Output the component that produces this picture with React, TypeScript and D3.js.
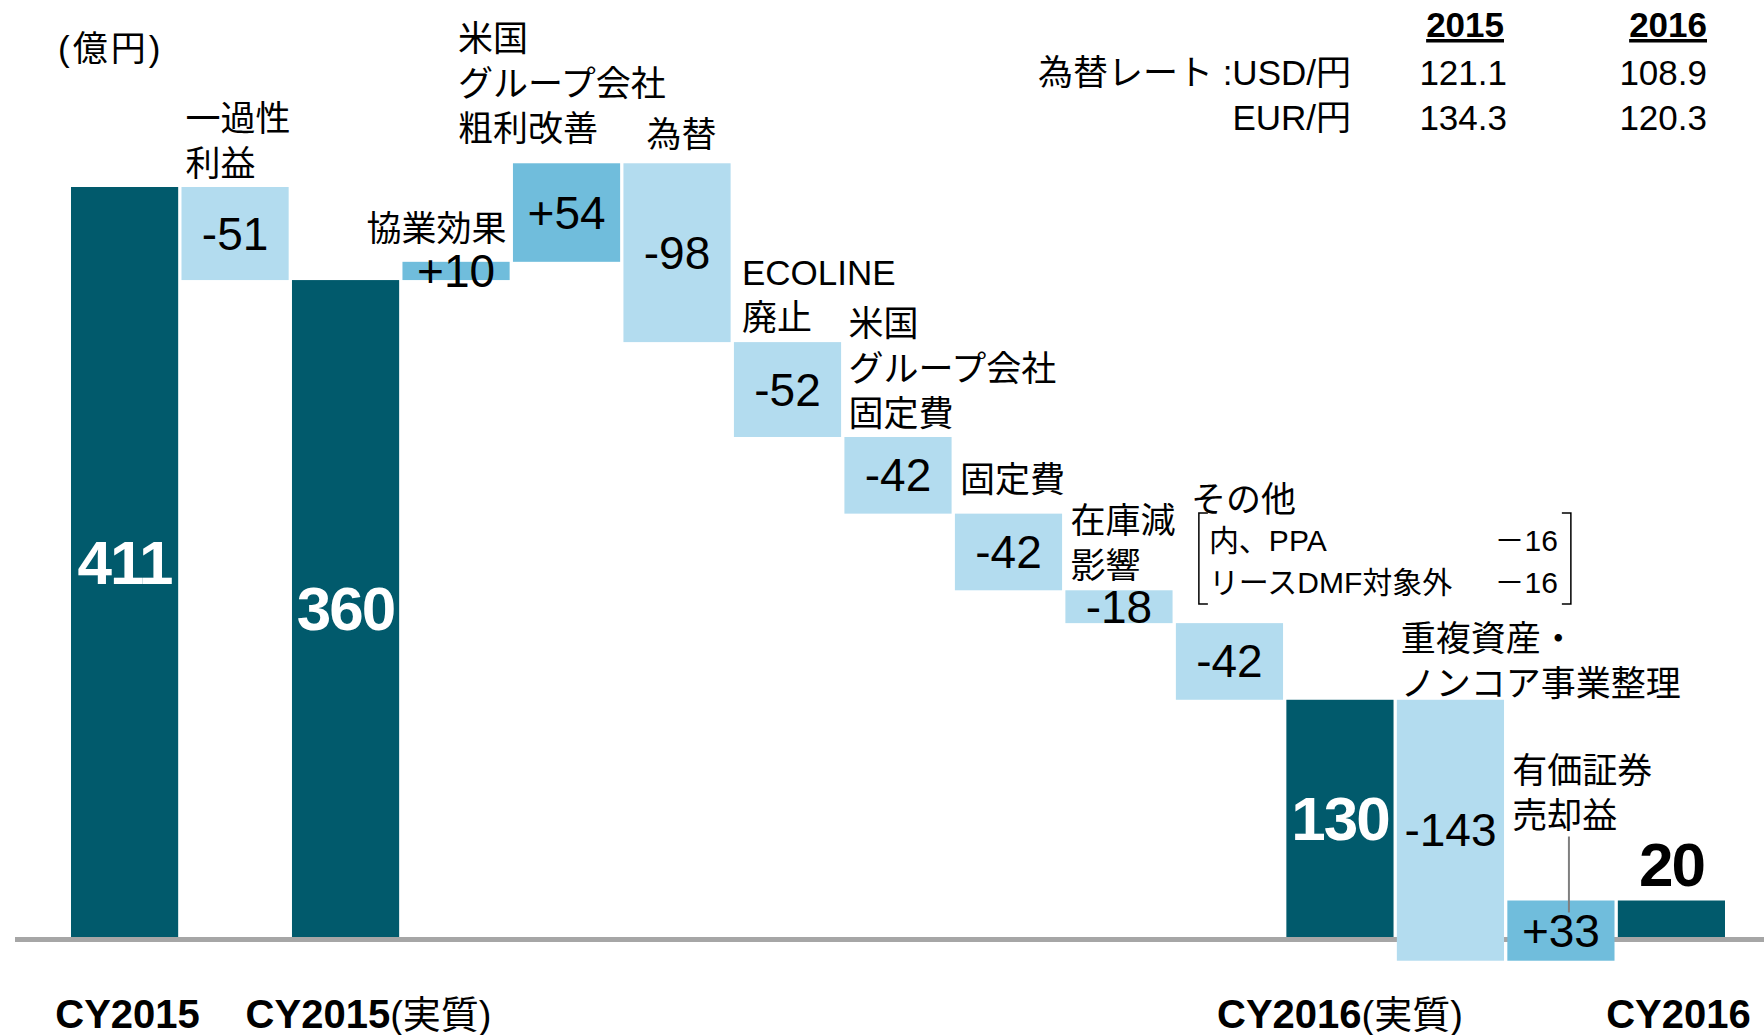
import React from "react";
import * as d3 from "d3";

// values in 億円
const categories = [
  "CY2015", "一過性利益", "CY2015(実質)", "協業効果", "米国グループ会社粗利改善",
  "為替", "ECOLINE廃止", "米国グループ会社固定費", "固定費", "在庫減影響",
  "その他", "CY2016(実質)", "重複資産・ノンコア事業整理", "有価証券売却益", "CY2016",
];
const values = [411, -51, 360, 10, 54, -98, -52, -42, -42, -18, -42, 130, -143, 33, 20];
const isTotal = [true, false, true, false, false, false, false, false, false, false, false, true, false, false, true];

const stepLabelLines = [
  [], ["一過性", "利益"], [], ["協業効果"], ["米国", "グループ会社", "粗利改善"],
  ["為替"], ["ECOLINE", "廃止"], ["米国", "グループ会社", "固定費"], ["固定費"], ["在庫減", "影響"],
  ["その他"], [], ["重複資産・", "ノンコア事業整理"], ["有価証券", "売却益"], [],
];

const bottomIdx = [0, 2, 11, 14];
const bottomMain = ["CY2015", "CY2015", "CY2016", "CY2016"];
const bottomSuffix = ["", "(実質)", "(実質)", ""];

const fxYears = ["2015", "2016"];
const fxRows = ["為替レート :USD/円", "EUR/円"];
const fx2015 = ["121.1", "134.3"];
const fx2016 = ["108.9", "120.3"];

const otherItems = ["内、PPA", "リースDMF対象外"];
const otherValues = ["－16", "－16"];

const FONT = "'Liberation Sans', Arial, 'Noto Sans CJK JP', sans-serif";
const DARK = "#015a6c";
const LIGHT = "#b3dcef";
const MID = "#70bddc";

// label placement: dx from band start (or band end for "end"), dy of last line from bar top
const labelLayout = [
  null, { dx: 4, anchor: "start", dy: -24 }, null, { dx: -3, anchor: "end", dy: -34 },
  { dx: -55, anchor: "start", dy: -35 }, { dx: 58, anchor: "middle", dy: -29 },
  { dx: 8, anchor: "start", dy: -25 }, { dx: 4, anchor: "start", dy: -24 },
  { dx: 5, anchor: "start", dy: -35 }, { dx: 5, anchor: "start", dy: -25 },
  { dx: 15, anchor: "start", dy: -124 }, null, { dx: 4, anchor: "start", dy: -17 },
  { dx: 5, anchor: "start", dy: -86 }, null,
];

export default function App() {
  const W = 1764, H = 1035;
  const x = d3.scaleBand().domain(categories).range([71, 1725]).paddingInner(0.03).paddingOuter(0);
  const y = d3.scaleLinear().domain([0, 411]).range([937, 187]);
  const bw = x.bandwidth();

  let run = 0;
  const bars = values.map((v, i) => {
    let a, b;
    if (isTotal[i]) { a = 0; b = v; run = v; }
    else { a = run; b = run + v; run = b; }
    const top = y(Math.max(a, b));
    const bottom = y(Math.min(a, b));
    const fill = isTotal[i] ? DARK : v < 0 ? LIGHT : MID;
    const label = isTotal[i] ? String(v) : (v > 0 ? "+" : "") + v;
    return { i, cat: categories[i], x0: x(categories[i]) as number, top, bottom, fill, label, v };
  });

  const lineH = 45;
  const otherBar = bars[10];
  const secBar = bars[13];
  const bx0 = otherBar.x0 + 23, bx1 = bx0 + 372, by0 = 513, by1 = 604;

  return (
    <svg width={W} height={H} style={{ position: "absolute", left: 0, top: 0, background: "#fff" }} fontFamily={FONT}>
      {/* baseline */}
      <line x1={15} x2={W} y1={y(0) + 2.5} y2={y(0) + 2.5} stroke="#a6a6a6" strokeWidth={5} />

      {bars.map((b) => (
        <rect key={b.cat} x={b.x0} y={b.top} width={bw} height={b.bottom - b.top} fill={b.fill} />
      ))}

      {/* leader line for 有価証券売却益 */}
      <line x1={secBar.x0 + bw / 2 + 8} x2={secBar.x0 + bw / 2 + 8} y1={secBar.top - 64} y2={secBar.top + 12}
        stroke="#7f7f7f" strokeWidth={2} />

      {/* values */}
      {bars.map((b) => {
        const last = b.i === values.length - 1;
        if (isTotal[b.i]) {
          return (
            <text key={"v" + b.i} x={b.x0 + bw / 2} y={last ? b.top - 36 : (b.top + b.bottom) / 2}
              textAnchor="middle" dominantBaseline="central" fontWeight="bold" fontSize={62}
              letterSpacing={-2} fill={last ? "#000" : "#fff"}>{b.label}</text>
          );
        }
        return (
          <text key={"v" + b.i} x={b.x0 + bw / 2} y={(b.top + b.bottom) / 2}
            textAnchor="middle" dominantBaseline="central" fontSize={46} fill="#000">{b.label}</text>
        );
      })}

      {/* step labels */}
      {bars.map((b) => {
        const lay = labelLayout[b.i];
        const lines = stepLabelLines[b.i];
        if (!lay || lines.length === 0) return null;
        const tx = lay.anchor === "end" ? b.x0 + bw + lay.dx : b.x0 + lay.dx;
        const yLast = b.top + lay.dy;
        return (
          <text key={"l" + b.i} textAnchor={lay.anchor as any} dominantBaseline="central" fontSize={35} fill="#000">
            {lines.map((ln, k) => (
              <tspan key={k} x={tx} y={yLast - (lines.length - 1 - k) * lineH}>{ln}</tspan>
            ))}
          </text>
        );
      })}

      {/* その他 breakdown */}
      <path d={`M${bx0 + 9},${by0} H${bx0} V${by1} H${bx0 + 9}`} fill="none" stroke="#000" strokeWidth={1.5} />
      <path d={`M${bx1 - 9},${by0} H${bx1} V${by1} H${bx1 - 9}`} fill="none" stroke="#000" strokeWidth={1.5} />
      {otherItems.map((t, k) => (
        <g key={t}>
          <text x={bx0 + 10} y={540 + k * 42} dominantBaseline="central" fontSize={30}>{t}</text>
          <text x={bx1 - 13} y={540 + k * 42} dominantBaseline="central" textAnchor="end" fontSize={30}>{otherValues[k]}</text>
        </g>
      ))}

      {/* unit */}
      <text x={58} y={48} dominantBaseline="central" fontSize={35} letterSpacing={3}>(億円)</text>

      {/* fx table */}
      {fxYears.map((yr, k) => (
        <text key={yr} x={k === 0 ? 1504 : 1707} y={37} textAnchor="end" fontSize={35} fontWeight="bold"
          style={{ textDecoration: "underline" }}>{yr}</text>
      ))}
      {fxRows.map((r, k) => (
        <g key={r}>
          <text x={1351} y={85 + k * 45} textAnchor="end" fontSize={35}>{r}</text>
          <text x={1507} y={85 + k * 45} textAnchor="end" fontSize={35}>{fx2015[k]}</text>
          <text x={1707} y={85 + k * 45} textAnchor="end" fontSize={35}>{fx2016[k]}</text>
        </g>
      ))}

      {/* category labels under axis */}
      {bottomIdx.map((idx, k) => {
        const cx = (x(categories[idx]) as number) + bw / 2;
        const dx = [3, 23, 0, 7][k];
        return (
          <text key={"b" + k} x={cx + dx} y={1028} textAnchor="middle" fontSize={40}>
            <tspan fontWeight="bold">{bottomMain[k]}</tspan>
            {bottomSuffix[k] && <tspan fontSize={38}>{bottomSuffix[k]}</tspan>}
          </text>
        );
      })}
    </svg>
  );
}
